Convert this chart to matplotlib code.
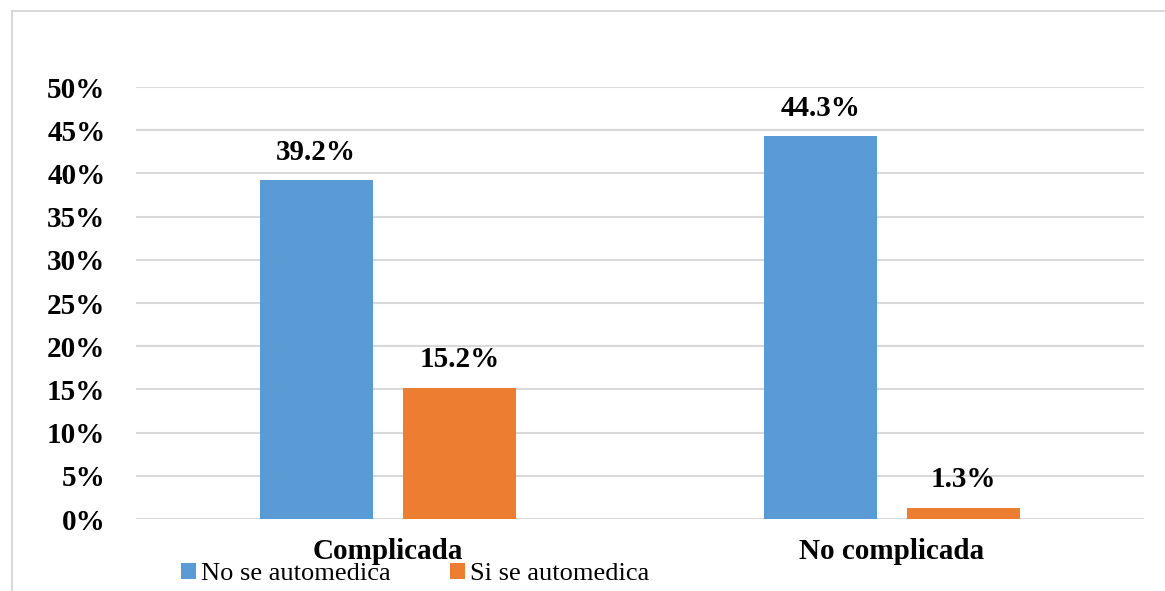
import matplotlib.pyplot as plt
from matplotlib.patches import Rectangle
import numpy as np

categories = ['Complicada', 'No complicada']
series_names = ['No se automedica', 'Si se automedica']
no_automedica = [39.2, 44.3]
si_automedica = [15.2, 1.3]
yticks = [0, 5, 10, 15, 20, 25, 30, 35, 40, 45, 50]

colors = ['#5B9BD5', '#ED7D31']
grid_color = '#D9D9D9'

plt.rcParams['font.family'] = ['Liberation Serif', 'DejaVu Serif']

fig = plt.figure(figsize=(11.65, 5.91), dpi=100)
ax = fig.add_axes([136 / 1165, 1 - 519 / 591, (1144 - 136) / 1165, (519 - 87) / 591])

x = np.arange(len(categories))
width = 0.224
offset = 0.1425
b1 = ax.bar(x - offset, no_automedica, width, color=colors[0], label=series_names[0], zorder=3)
b2 = ax.bar(x + offset, si_automedica, width, color=colors[1], label=series_names[1], zorder=3)

for bars in (b1, b2):
    for rect in bars:
        h = rect.get_height()
        ax.annotate(f'{h:.1f}%', (rect.get_x() + rect.get_width() / 2, h),
                    xytext=(0, 20), textcoords='offset points',
                    ha='center', va='center', fontsize=21, fontweight='bold')

ax.set_xlim(-0.5, 1.5)
ax.set_ylim(0, 50)
ax.set_yticks(yticks)
ax.set_yticklabels([f'{t}%' for t in yticks], fontsize=21, fontweight='bold')
ax.set_xticks(x)
ax.set_xticklabels(categories, fontsize=21, fontweight='bold')
ax.tick_params(axis='y', length=0, pad=22)
ax.tick_params(axis='x', length=0, pad=14)
ax.grid(axis='y', color=grid_color, linewidth=1.5, zorder=0)
for s in ax.spines.values():
    s.set_visible(False)

# outer chart frame
fig.patches.append(Rectangle((12 / 1165, -0.05), 1.2, 1 - 11 / 591 + 0.05,
                             transform=fig.transFigure, fill=False,
                             edgecolor=grid_color, linewidth=1.5))

fig.legend(loc='center left', bbox_to_anchor=(168 / 1165, 1 - 574 / 591),
           ncol=2, frameon=False, fontsize=19, handlelength=0.55, handleheight=0.55,
           handletextpad=0.2, columnspacing=2.25, borderpad=0)

fig.savefig('out.png', dpi=100)
